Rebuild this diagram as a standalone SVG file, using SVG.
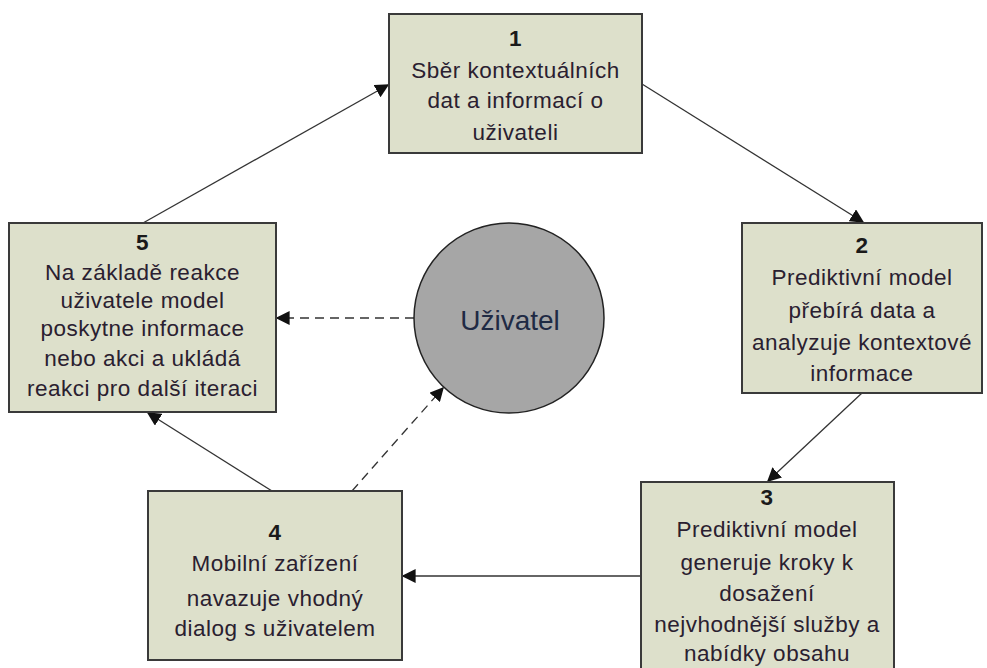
<svg xmlns="http://www.w3.org/2000/svg" width="987" height="668" viewBox="0 0 987 668">
<style>
.box{fill:#dde0cb;stroke:#3a3a3a;stroke-width:2}
.t{font-family:"Liberation Sans",Arial,sans-serif;font-size:22.5px;letter-spacing:0.5px;fill:#2a2030;text-anchor:middle}
.n{font-weight:bold;fill:#1a1a1a}
.c{fill:none;stroke:#333;stroke-width:1.3}
.d{stroke-dasharray:9 6}
</style>
<defs>
<marker id="ah" viewBox="0 0 10 10" refX="9" refY="5" markerWidth="14" markerHeight="14" markerUnits="userSpaceOnUse" orient="auto">
<path d="M0,0 L10,5 L0,10 z" fill="#111"/>
</marker>
</defs>
<rect width="987" height="668" fill="#fff"/>
<g id="connectors">
<line class="c" x1="143" y1="223" x2="388" y2="85" marker-end="url(#ah)"/>
<line class="c" x1="642" y1="84" x2="863" y2="222" marker-end="url(#ah)"/>
<line class="c" x1="862" y1="393" x2="768" y2="481" marker-end="url(#ah)"/>
<line class="c" x1="641" y1="576" x2="403" y2="576" marker-end="url(#ah)"/>
<line class="c" x1="272" y1="491" x2="148" y2="413" marker-end="url(#ah)"/>
<line class="c d" x1="352" y1="491" x2="443" y2="388" marker-end="url(#ah)"/>
<line class="c d" x1="414" y1="318" x2="277" y2="318" marker-end="url(#ah)"/>
</g>
<g id="node1">
<rect class="box" x="389" y="14" width="253" height="139"/>
<text class="t n" x="515.5" y="46">1</text>
<text class="t" x="515.5" y="78">Sběr kontextuálních</text>
<text class="t" x="515.5" y="108">dat a informací o</text>
<text class="t" x="515.5" y="140">uživateli</text>
</g>
<g id="node2">
<rect class="box" x="742" y="223" width="240" height="170"/>
<text class="t n" x="862" y="253">2</text>
<text class="t" x="862" y="285">Prediktivní model</text>
<text class="t" x="862" y="318">přebírá data a</text>
<text class="t" x="862" y="350">analyzuje kontextové</text>
<text class="t" x="862" y="381">informace</text>
</g>
<g id="node3">
<rect class="box" x="641" y="482" width="253" height="200"/>
<text class="t n" x="767" y="505">3</text>
<text class="t" x="767" y="537">Prediktivní model</text>
<text class="t" x="767" y="570">generuje kroky k</text>
<text class="t" x="767" y="601">dosažení</text>
<text class="t" x="767" y="632">nejvhodnější služby a</text>
<text class="t" x="767" y="661">nabídky obsahu</text>
</g>
<g id="node4">
<rect class="box" x="148" y="491" width="254" height="169"/>
<text class="t n" x="275" y="540">4</text>
<text class="t" x="275" y="571">Mobilní zařízení</text>
<text class="t" x="275" y="606">navazuje vhodný</text>
<text class="t" x="275" y="636">dialog s uživatelem</text>
</g>
<g id="node5">
<rect class="box" x="9" y="223" width="267" height="189"/>
<text class="t n" x="142.5" y="250">5</text>
<text class="t" x="142.5" y="280">Na základě reakce</text>
<text class="t" x="142.5" y="308">uživatele model</text>
<text class="t" x="142.5" y="336">poskytne informace</text>
<text class="t" x="142.5" y="366">nebo akci a ukládá</text>
<text class="t" x="142.5" y="396">reakci pro další iteraci</text>
</g>
<g id="user">
<circle cx="509" cy="318" r="95" fill="#a6a6a6" stroke="#222" stroke-width="1.5"/>
<text class="t" x="510" y="330" style="font-size:28px;letter-spacing:0;fill:#1f2a44">Uživatel</text>
</g>
</svg>
